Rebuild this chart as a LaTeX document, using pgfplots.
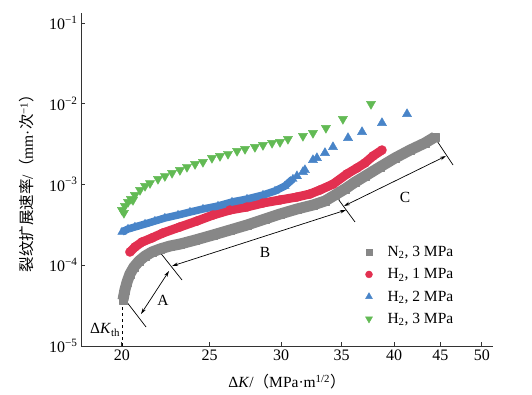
\documentclass[border=0pt]{standalone}
\usepackage{fontspec}
\setmainfont{Liberation Serif}
\newfontfamily\cjk{Noto Sans CJK SC}
\usepackage{pgfplots}
\pgfplotsset{compat=1.18}
\usetikzlibrary{arrows.meta}
\definecolor{cgray}{RGB}{135,135,135}
\definecolor{cred}{RGB}{226,48,80}
\definecolor{cblue}{RGB}{72,132,200}
\definecolor{cgreen}{RGB}{98,186,84}
\begin{document}
\begin{tikzpicture}
\useasboundingbox (0,0) rectangle (532pt,394pt);
\begin{axis}[
  at={(81pt,48pt)}, anchor=south west,
  scale only axis, width=412pt, height=333pt,
  xmode=log, ymode=log,
  xmin=18.02, xmax=51.45, ymin=1e-5, ymax=0.133,
  axis x line*=bottom, axis y line*=left,
  axis line style={line width=0.9pt, color=black!80},
  xtick={20,25,30,35,40,45,50}, xticklabels={20,25,30,35,40,45,50},
  ytick={1e-5,1e-4,1e-3,1e-2,1e-1},
  yticklabels={10\textsuperscript{−5},10\textsuperscript{−4},10\textsuperscript{−3},10\textsuperscript{−2},10\textsuperscript{−1}},
  xminorticks=false, yminorticks=false,
  tick align=inside, major tick length=4pt,
  tick style={line width=0.9pt, black!80},
  tick label style={font=\fontsize{16}{19}\selectfont},
  clip=false,
  xlabel={Δ\textit{K}/{\cjk （}MPa·m\textsuperscript{1/2}{\cjk ）}},
  ylabel={{\cjk 裂纹扩展速率}/{\cjk （}mm·{\cjk 次}\textsuperscript{−1}{\cjk ）}},
  xlabel style={at={(rel axis cs:0.5,-0.108)}, anchor=center, font=\fontsize{15.5}{18}\selectfont},
  ylabel style={at={(rel axis cs:-0.131,0.5)}, anchor=center, font=\fontsize{15.5}{18}\selectfont},
  legend style={draw=none, fill=none, at={(rel axis cs:0.690,0.306)}, anchor=north west,
    font=\fontsize{15.5}{18}\selectfont, row sep=6.5pt, column sep=13pt, inner sep=0pt},
  legend cell align=left,
]
% N2, 3 MPa
\addplot[forget plot, cgray, line width=11pt, line join=round, mark=square*, mark size=4.2pt, mark options={line width=0.1pt}] coordinates {
(20.05,3.71e-5) (20.15,4.94e-5) (20.26,6.20e-5) (20.41,7.79e-5) (20.62,9.51e-5)
(20.89,1.13e-4) (21.21,1.30e-4) (21.59,1.46e-4) (22.03,1.59e-4) (22.60,1.73e-4)
(23.18,1.83e-4) (24.09,2.05e-4) (25.22,2.37e-4) (26.33,2.73e-4) (27.50,3.15e-4)
(28.79,3.74e-4) (29.91,4.31e-4) (31.23,4.97e-4) (32.53,5.57e-4) (33.54,6.25e-4)
(34.40,7.41e-4) (35.29,8.80e-4) (36.21,1.07e-3) (37.14,1.27e-3) (38.59,1.65e-3)
(40.09,2.13e-3) (41.65,2.67e-3) (43.27,3.27e-3) (44.38,3.88e-3)
};
% H2, 1 MPa
\addplot[forget plot, cred, line width=9pt, line join=round, mark=*, mark size=4.7pt, mark options={line width=0.1pt}] coordinates {
(20.41,1.46e-4) (20.67,1.68e-4) (21.05,1.94e-4) (21.59,2.18e-4) (22.20,2.51e-4)
(23.18,2.98e-4) (24.21,3.53e-4) (25.22,4.19e-4) (26.33,4.83e-4) (27.50,5.27e-4)
(28.64,5.90e-4) (29.91,6.43e-4) (31.23,7.00e-4) (32.28,7.63e-4) (33.11,8.55e-4)
(34.23,1.01e-3) (35.47,1.35e-3) (36.39,1.60e-3) (37.14,1.85e-3) (37.90,2.25e-3)
(38.78,2.67e-3)
};
% H2, 2 MPa dense part
\addplot[forget plot, cblue, line width=7.5pt, line join=round, mark=triangle*, mark size=5pt, mark options={line width=0.1pt}] coordinates {
(20.00,2.58e-4) (20.31,2.81e-4) (20.67,2.98e-4) (21.21,3.24e-4) (21.75,3.53e-4)
(22.31,3.85e-4) (23.07,4.19e-4) (23.78,4.56e-4) (24.58,4.97e-4) (25.54,5.42e-4)
(26.47,6.07e-4) (27.50,6.61e-4) (28.64,7.41e-4) (29.53,8.31e-4) (30.29,9.58e-4)
(30.91,1.17e-3)
};
% H2, 2 MPa sparse part
\addplot[forget plot, cblue, only marks, mark=triangle*, mark size=5.3pt] coordinates {
(31.23,1.27e-3) (31.71,1.43e-3) (31.87,1.51e-3) (32.53,2.01e-3) (32.86,2.13e-3)
(33.54,2.46e-3) (34.23,2.91e-3) (35.57,3.77e-3) (36.86,4.47e-3) (38.78,5.78e-3)
(41.33,7.46e-3)
};
% H2, 3 MPa
\addplot[forget plot, cgreen, only marks, mark=triangle*, mark size=5.3pt, mark options={rotate=180}] coordinates {
(20.00,4.83e-4) (20.10,4.44e-4) (20.15,5.42e-4) (20.31,6.07e-4) (20.46,6.61e-4)
(20.57,6.43e-4) (20.67,7.41e-4) (20.94,8.55e-4) (21.21,9.58e-4) (21.48,1.04e-3)
(21.92,1.17e-3) (22.31,1.27e-3) (22.72,1.39e-3) (23.18,1.51e-3) (23.60,1.65e-3)
(24.09,1.79e-3) (24.58,1.90e-3) (25.15,2.13e-3) (25.67,2.25e-3) (26.20,2.39e-3)
(26.81,2.60e-3) (27.36,2.75e-3) (28.06,2.91e-3) (28.64,3.08e-3) (29.31,3.27e-3)
(29.91,3.36e-3) (30.52,3.66e-3) (31.71,3.99e-3) (32.53,4.34e-3) (33.62,5.01e-3)
(35.11,6.47e-3) (37.71,9.93e-3)
};
\addlegendimage{only marks, mark=square*, mark size=3pt, cgray}
\addlegendentry{N\textsubscript{2}, 3 MPa}
\addlegendimage{only marks, mark=*, mark size=3.5pt, cred}
\addlegendentry{H\textsubscript{2}, 1 MPa}
\addlegendimage{only marks, mark=triangle*, mark size=4pt, cblue}
\addlegendentry{H\textsubscript{2}, 2 MPa}
\addlegendimage{only marks, mark=triangle*, mark size=4pt, mark options={rotate=180}, cgreen}
\addlegendentry{H\textsubscript{2}, 3 MPa}
% annotations
\draw[black, line width=0.7pt, dashed] (axis cs:20,1e-5) -- (axis cs:20,3.6e-5);
\draw[black, line width=0.7pt] (rel axis cs:0.1019,0.1471) -- (rel axis cs:0.1578,0.0571);
\draw[black, line width=0.7pt] (rel axis cs:0.1893,0.2853) -- (rel axis cs:0.2451,0.1982);
\draw[black, line width=0.7pt] (rel axis cs:0.6117,0.4625) -- (rel axis cs:0.6650,0.3724);
\draw[black, line width=0.7pt] (rel axis cs:0.8544,0.6336) -- (rel axis cs:0.9029,0.5435);
\draw[black, line width=0.7pt, {Stealth[length=6pt,width=3.5pt]}-{Stealth[length=6pt,width=3.5pt]}] (rel axis cs:0.1456,0.0961) -- (rel axis cs:0.2136,0.2252);
\draw[black, line width=0.7pt, {Stealth[length=6pt,width=3.5pt]}-{Stealth[length=6pt,width=3.5pt]}] (rel axis cs:0.2209,0.2402) -- (rel axis cs:0.6432,0.4084);
\draw[black, line width=0.7pt, {Stealth[length=6pt,width=3.5pt]}-{Stealth[length=6pt,width=3.5pt]}] (rel axis cs:0.6383,0.4204) -- (rel axis cs:0.8859,0.5706);
\node[font=\fontsize{15.5}{18}\selectfont] at (rel axis cs:0.1990,0.1381) {A};
\node[font=\fontsize{15.5}{18}\selectfont] at (rel axis cs:0.4466,0.2823) {B};
\node[font=\fontsize{15.5}{18}\selectfont] at (rel axis cs:0.7864,0.4474) {C};
\node[font=\fontsize{15.5}{18}\selectfont] at (rel axis cs:0.0583,0.0480) {Δ\textit{K}\textsubscript{th}};
\end{axis}
\end{tikzpicture}
\end{document}
